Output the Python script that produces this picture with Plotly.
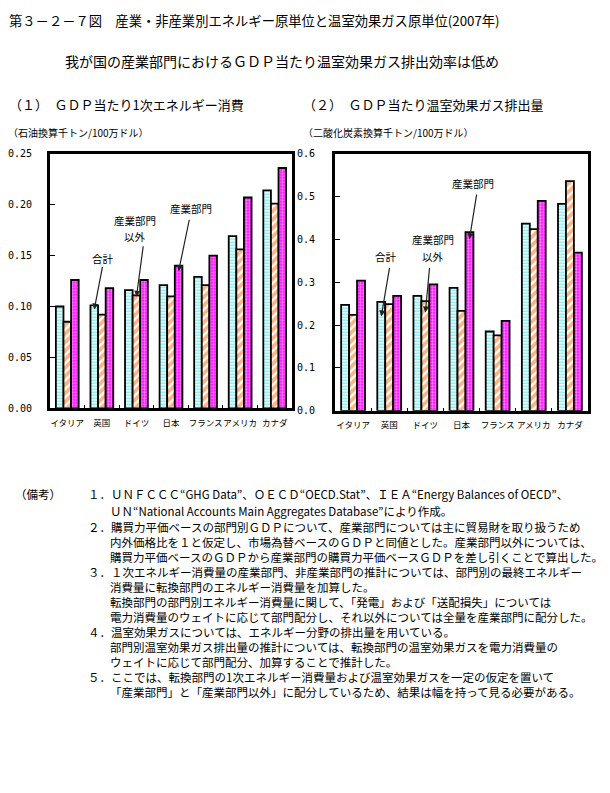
import plotly.graph_objects as go

# ---------------- data ----------------
countries = ["イタリア", "英国", "ドイツ", "日本", "フランス", "アメリカ", "カナダ"]
series_names = ["合計", "産業部門以外", "産業部門"]

# (1) primary energy per GDP (thousand toe / million USD)
energy_total = [0.100, 0.101, 0.116, 0.121, 0.129, 0.169, 0.214]
energy_nonind = [0.085, 0.092, 0.111, 0.110, 0.121, 0.156, 0.201]
energy_ind = [0.126, 0.118, 0.126, 0.140, 0.150, 0.207, 0.236]

# (2) GHG emissions per GDP (thousand t-CO2 / million USD)
ghg_total = [0.247, 0.254, 0.268, 0.287, 0.185, 0.437, 0.483]
ghg_nonind = [0.224, 0.249, 0.256, 0.233, 0.176, 0.424, 0.536]
ghg_ind = [0.304, 0.268, 0.295, 0.417, 0.210, 0.490, 0.369]

title_text = "第３－２－７図　産業・非産業別エネルギー原単位と温室効果ガス原単位(2007年)"
subtitle_text = "我が国の産業部門におけるＧＤＰ当たり温室効果ガス排出効率は低め"
panel1_title = "（１）　ＧＤＰ当たり1次エネルギー消費"
panel2_title = "（２）　ＧＤＰ当たり温室効果ガス排出量"
panel1_unit = "（石油換算千トン/100万ドル）"
panel2_unit = "（二酸化炭素換算千トン/100万ドル）"

notes_head = "（備考）"
notes_lines = [
    ("１．ＵＮＦＣＣＣ“GHG Data”、ＯＥＣＤ“OECD.Stat”、ＩＥＡ“Energy Balances of OECD”、", 1),
    ("ＵＮ“National Accounts Main Aggregates Database”により作成。", 2),
    ("２．購買力平価ベースの部門別ＧＤＰについて、産業部門については主に貿易財を取り扱うため", 1),
    ("内外価格比を１と仮定し、市場為替ベースのＧＤＰと同値とした。産業部門以外については、", 2),
    ("購買力平価ベースのＧＤＰから産業部門の購買力平価ベースＧＤＰを差し引くことで算出した。", 2),
    ("３．１次エネルギー消費量の産業部門、非産業部門の推計については、部門別の最終エネルギー", 1),
    ("消費量に転換部門のエネルギー消費量を加算した。", 2),
    ("転換部門の部門別エネルギー消費量に関して、「発電」および「送配損失」については", 2),
    ("電力消費量のウェイトに応じて部門配分し、それ以外については全量を産業部門に配分した。", 2),
    ("４．温室効果ガスについては、エネルギー分野の排出量を用いている。", 1),
    ("部門別温室効果ガス排出量の推計については、転換部門の温室効果ガスを電力消費量の", 2),
    ("ウェイトに応じて部門配分、加算することで推計した。", 2),
    ("５．ここでは、転換部門の1次エネルギー消費量および温室効果ガスを一定の仮定を置いて", 1),
    ("「産業部門」と「産業部門以外」に配分しているため、結果は幅を持って見る必要がある。", 2),
]

# ---------------- layout helpers ----------------
W, H = 610, 793
JP = "Noto Sans CJK JP"
MONO = "DejaVu Sans Mono"


def px(x):
    return x / W


def py(y):
    return 1 - y / H


BARGAP = 0.34
OFF = (1 - BARGAP) / 3

styles = [
    dict(shape="-", fg="#00D8D8", bg="white", size=3, sol=0.5),
    dict(shape="/", fg="#FF6600", bg="white", size=6, sol=0.6),
    dict(shape=".", fg="white", bg="#FF00FF", size=3, sol=0.5),
]

fig = go.Figure()

panels = [
    ("x", "y", [energy_total, energy_nonind, energy_ind]),
    ("x2", "y2", [ghg_total, ghg_nonind, ghg_ind]),
]

for xa, ya, arrays in panels:
    for name, vals, st in zip(series_names, arrays, styles):
        fig.add_trace(go.Bar(
            x=countries, y=vals, name=name, xaxis=xa, yaxis=ya,
            showlegend=False,
            marker=dict(
                color=st["fg"],
                line=dict(color="black", width=1.8),
                pattern=dict(shape=st["shape"], fgcolor=st["fg"], bgcolor=st["bg"],
                             size=st["size"], solidity=st["sol"]),
            ),
        ))

common_x = dict(
    type="category", showline=True, mirror=True, linewidth=3, linecolor="black",
    ticks="inside", tickson="boundaries", ticklen=3, tickwidth=1, tickcolor="black",
    showgrid=False, zeroline=False, tickangle=0,
    tickfont=dict(family=JP, size=8.5, color="black"),
    ticklabelstandoff=4,
)
common_y = dict(
    showline=True, mirror=True, linewidth=3, linecolor="black",
    ticks="inside", ticklen=5, tickwidth=1, tickcolor="black",
    showgrid=False, zeroline=False, tickfont=dict(family=MONO, size=10, color="black"),
)

fig.update_layout(
    width=W, height=H,
    margin=dict(l=0, r=0, t=0, b=0),
    paper_bgcolor="white", plot_bgcolor="white",
    barmode="group", bargap=BARGAP, bargroupgap=0,
    xaxis=dict(domain=[px(50), px(292)], anchor="y", **common_x),
    yaxis=dict(domain=[py(408.5), py(150)], anchor="x", range=[0, 0.25], dtick=0.05,
               tickformat=".2f", ticklabelstandoff=13, **common_y),
    xaxis2=dict(domain=[px(335), px(588)], anchor="y2", **common_x),
    yaxis2=dict(domain=[py(411), py(150)], anchor="x2", range=[0, 0.6], dtick=0.1,
                tickformat=".1f", ticklabelstandoff=15, **common_y),
)

ann = []


def text_ann(text, x, y, size, xanchor="left", family=JP):
    ann.append(dict(text=text, x=px(x), y=py(y), xref="paper", yref="paper",
                    xanchor=xanchor, yanchor="middle", showarrow=False,
                    font=dict(family=family, size=size, color="black")))


text_ann(title_text, 7, 15, 13.3)
text_ann(subtitle_text, 282, 56, 14, xanchor="center")
text_ann(panel1_title, 7, 100, 13)
text_ann(panel2_title, 301, 100, 13)
text_ann(panel1_unit, 6, 128, 10)
text_ann(panel2_unit, 301, 128, 10)

# callout labels (one annotation per line) and arrows
callouts = [
    (["合計"], (102.7, 256), 0, 1, (8.5, -44), -4, "x", "y", panels[0][2]),
    (["産業部門", "以外"], (135, 217.5), 1, 2, (7, -52), -1.5, "x", "y", panels[0][2]),
    (["産業部門"], (190.7, 205.7), 2, 3, (11, -53), -5.5, "x", "y", panels[0][2]),
    (["合計"], (385.7, 254.3), 0, 1, (8.5, -50), -14.5, "x2", "y2", panels[1][2]),
    (["産業部門", "以外"], (433.3, 237.5), 1, 2, (4.3, -46), -11.4, "x2", "y2", panels[1][2]),
    (["産業部門"], (473.3, 180), 2, 3, (7.4, -46), -7, "x2", "y2", panels[1][2]),
]
for lines, (tx, ty), si, ci, (axp, ayp), ysh, xr, yr, arrays in callouts:
    for k, line in enumerate(lines):
        ann.append(dict(text=line, x=px(tx), y=py(ty + k * 16.5), xref="paper", yref="paper",
                        xanchor="center", yanchor="middle", showarrow=False,
                        font=dict(family=JP, size=10.5, color="black")))
    ann.append(dict(text="", x=ci + (si - 1) * OFF, y=arrays[si][ci], xref=xr, yref=yr,
                    showarrow=True, arrowhead=2, arrowsize=1, arrowwidth=1.2,
                    arrowcolor="#222222", ax=axp, ay=ayp, yshift=ysh))

# notes
note_x = {1: 86, 2: 108}
note_y0 = 496
note_dy = 15.2
text_ann(notes_head, 13, note_y0, 11.5)
for i, (line, lvl) in enumerate(notes_lines):
    yy = note_y0 + i * note_dy + (1.5 if i >= 1 else 0) + (1.5 if i >= 2 else 0)
    text_ann(line, note_x[lvl], yy, 11.5)

fig.update_layout(annotations=ann)
fig.write_html("out.html", config={"displayModeBar": False},
               post_script="document.body.style.margin='0px';")
